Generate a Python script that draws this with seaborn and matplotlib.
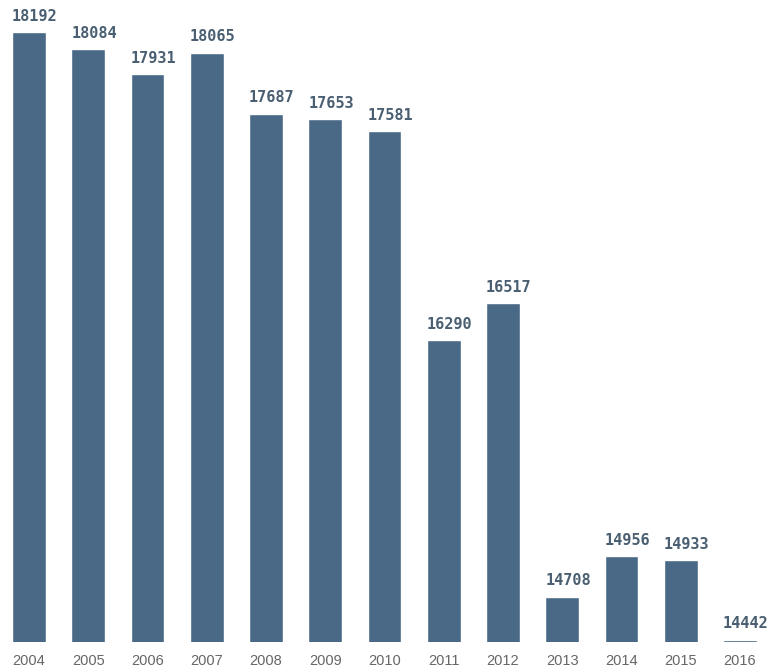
import matplotlib
matplotlib.use("Agg")
import matplotlib.pyplot as plt
import matplotlib.transforms as mtransforms
import seaborn as sns
import pandas as pd

years = ["2004", "2005", "2006", "2007", "2008", "2009", "2010",
         "2011", "2012", "2013", "2014", "2015", "2016"]
values = [18192, 18084, 17931, 18065, 17687, 17653, 17581,
          16290, 16517, 14708, 14956, 14933, 14442]

df = pd.DataFrame({"year": years, "value": values})

sns.set_theme(style="white")
fig = plt.figure(figsize=(7.69, 6.67), dpi=100)
ax = fig.add_axes([0, 0.0375, 1, 0.9625])

bar_color = "#4a6986"
sns.barplot(data=df, x="year", y="value", color=bar_color, width=0.57,
            saturation=1, ax=ax)

ax.set_ylim(14428, 18389)
ax.set_xlim(-0.489, 12.49)

offset = mtransforms.ScaledTranslation(0, 6 / 72, fig.dpi_scale_trans)
for patch, v in zip(ax.patches, values):
    ax.text(patch.get_x(), v, f"{v}", ha="left", va="bottom",
            fontsize=11, fontweight="bold", family="DejaVu Sans Mono",
            color="#4a5f72", transform=ax.transData + offset)

ax.set_xlabel("")
ax.set_ylabel("")
ax.set_yticks([])
ax.tick_params(axis="x", length=0, pad=9, labelsize=10.5, labelcolor="#666666")
for lbl in ax.get_xticklabels():
    lbl.set_family("Liberation Sans")
for s in ax.spines.values():
    s.set_visible(False)

fig.savefig("out.png", dpi=100, facecolor="white")
